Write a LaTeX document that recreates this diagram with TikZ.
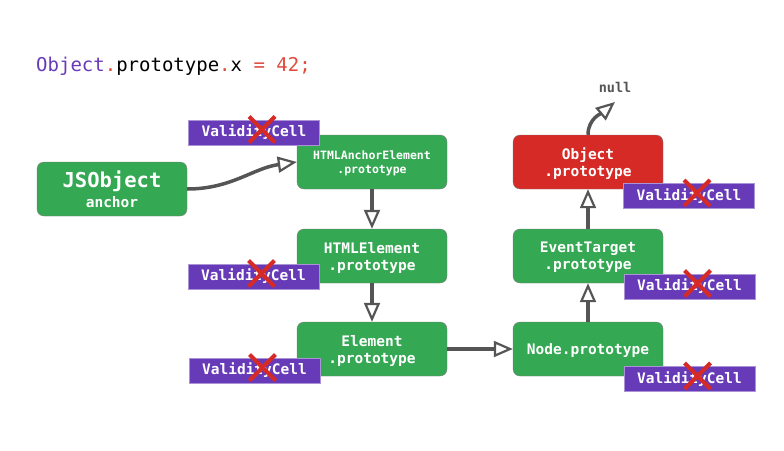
\documentclass[tikz,border=0pt]{standalone}
\usepackage{fontspec}
\setmonofont{DejaVu Sans Mono}
\usetikzlibrary{arrows.meta}

\definecolor{protogreen}{HTML}{34A853}
\definecolor{protored}{HTML}{D62A26}
\definecolor{cellpurple}{HTML}{673AB7}
\definecolor{linkgray}{HTML}{555555}
\definecolor{codered}{HTML}{E0493D}

\tikzset{
  proto/.style={draw=gray, fill=protogreen, rounded corners=7pt,
    minimum width=150pt, minimum height=54pt, inner sep=0pt, text depth=0pt,
    text=white, align=center, font=\ttfamily\bfseries\fontsize{14.5}{17}\selectfont},
  cell/.style={draw=cellpurple!55!white, fill=cellpurple, minimum width=131pt,
    minimum height=25pt, inner sep=0pt, text=white,
    font=\ttfamily\bfseries\fontsize{14.5}{17}\selectfont},
  link/.style={draw=linkgray, line width=3.5pt,
    -{Triangle[open, length=19pt, width=16pt, line width=2.2pt]}},
  cross/.style={draw=protored, line width=4pt}
}
\newcommand{\strikecell}[1]{%
  \draw[cross] ([shift={(-5,-16)}]#1.center) -- ([shift={(21,10)}]#1.center);
  \draw[cross] ([shift={(-5,10)}]#1.center) -- ([shift={(21,-16)}]#1.center);}

\begin{document}
\begin{tikzpicture}[x=1pt, y=-1pt]
	\useasboundingbox (0,0) rectangle (784,450);
	% the store into Object.prototype
	\node [anchor=base west, inner sep=0pt, font=\ttfamily\fontsize{19}{22}\selectfont] (code) at (36,71)
	  {\textcolor{cellpurple}{Object}\textcolor{codered}{.}prototype\textcolor{codered}{.}x \textcolor{codered}{= 42;}};

	% prototype chain
	\node [proto, font=\ttfamily\bfseries\fontsize{14.5}{20}\selectfont] (js) at (112,189)
	  {{\fontsize{20.5}{22}\selectfont JSObject}\\anchor};
	\node [proto, font=\ttfamily\bfseries\fontsize{11.5}{14}\selectfont] (anchorp) at (372,162) {HTMLAnchorElement\\.prototype};
	\node [proto] (htmlp) at (372,256) {HTMLElement\\.prototype};
	\node [proto] (elemp) at (372,349) {Element\\.prototype};
	\node [proto] (nodep) at (588,349) {Node.prototype};
	\node [proto] (evtp) at (588,256) {EventTarget\\.prototype};
	\node [proto, fill=protored] (objp) at (588,162) {Object\\.prototype};
	\node [text=linkgray, font=\ttfamily\bfseries\fontsize{13.5}{16}\selectfont] (nullp) at (615,87) {null};
	\coordinate (nullend) at (615,102);

	\draw [link] (js.east) to[out=0, in=188] (anchorp.west);
	\draw [link] (anchorp) -- (htmlp);
	\draw [link] (htmlp) -- (elemp);
	\draw [link] (elemp) -- (nodep);
	\draw [link] (nodep) -- (evtp);
	\draw [link] (evtp) -- (objp);
	\draw [link] (objp.north) to[out=90, in=220] (nullend);

	% invalidated cells
	\node [cell] (c1) at (254,132.5) {ValidityCell};
	\node [cell] (c2) at (253.5,276.5) {ValidityCell};
	\node [cell] (c3) at (254.5,370.5) {ValidityCell};
	\node [cell] (c4) at (689,196) {ValidityCell};
	\node [cell] (c5) at (689.5,286.5) {ValidityCell};
	\node [cell] (c6) at (689.5,379) {ValidityCell};
	\strikecell{c1}
	\strikecell{c2}
	\strikecell{c3}
	\strikecell{c4}
	\strikecell{c5}
	\strikecell{c6}
\end{tikzpicture}
\end{document}
